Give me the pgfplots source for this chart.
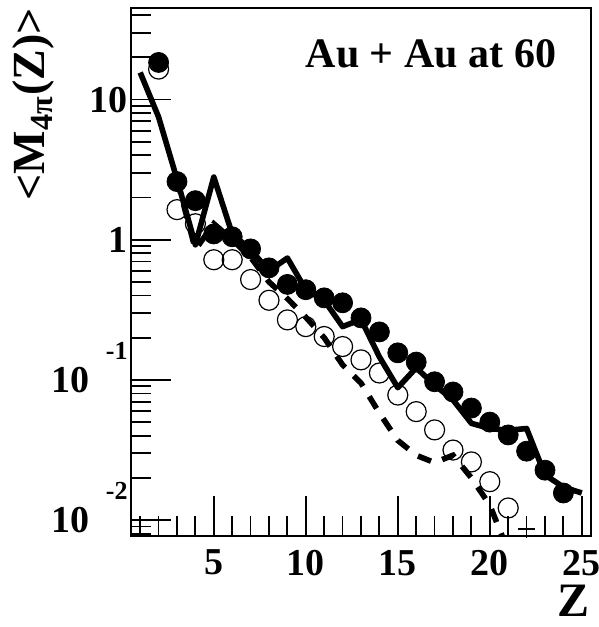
\documentclass[border=0pt]{standalone}
\usepackage{fontspec}
\setmainfont{Liberation Serif}
\usepackage{pgfplots}
\pgfplotsset{compat=1.18}
\usetikzlibrary{calc}

\pgfplotstableread{
Z v
2 18.4
3 2.6
4 1.9
5 1.1
6 1.05
7 0.86
8 0.63
9 0.48
10 0.44
11 0.385
12 0.355
13 0.277
14 0.22
15 0.156
16 0.134
17 0.097
18 0.082
19 0.063
20 0.050
21 0.0405
22 0.031
23 0.0227
24 0.0156
}\filled

\pgfplotstableread{
Z v
2 16.5
3 1.64
4 1.3
5 0.72
6 0.72
7 0.52
8 0.37
9 0.268
10 0.24
11 0.204
12 0.173
13 0.139
14 0.112
15 0.078
16 0.0594
17 0.044
18 0.0316
19 0.026
20 0.0188
21 0.0122
}\open

\pgfplotstableread{
Z v
1 15.6
2 7.5
3 2.7
4 0.92
5 2.8
6 1.1
7 0.85
8 0.6
9 0.74
10 0.44
11 0.37
12 0.24
13 0.27
14 0.146
15 0.088
16 0.122
17 0.092
18 0.072
19 0.049
20 0.045
21 0.0437
22 0.045
23 0.021
24 0.0172
25 0.0156
}\solid

\pgfplotstableread{
Z v
3 2.7
4 0.85
5 1.3
6 1.0
7 0.75
8 0.5
9 0.38
10 0.28
11 0.2
12 0.128
13 0.095
14 0.058
15 0.037
16 0.029
17 0.0257
18 0.029
19 0.02
20 0.0128
21 0.006
}\dashed

\begin{document}
\begin{tikzpicture}
\begin{axis}[
  scale only axis, width=230pt, height=264pt,
  xmin=0.5, xmax=25.5,
  ymode=log, ymin=0.0077, ymax=45,
  axis line style={line width=1pt},
  tick align=inside, tick pos=left,
  xtick={5,10,15,20,25},
  xticklabels={5,10,15,20,25},
  minor xtick={1,2,3,4,6,7,8,9,11,12,13,14,16,17,18,19,21,22,23,24},
  ytick={0.01,0.1,1,10},
  yticklabels={
    {10\hspace{8.2pt}\raisebox{16.5pt}[0pt][0pt]{\fontsize{13}{13}\selectfont -2}},
    {10\hspace{8.2pt}\raisebox{16.5pt}[0pt][0pt]{\fontsize{13}{13}\selectfont -1}},
    {1\hspace{14pt}},
    {10\hspace{14pt}}},
  minor ytick={0.008,0.009,0.02,0.03,0.04,0.05,0.06,0.07,0.08,0.09,0.2,0.3,0.4,0.5,0.6,0.7,0.8,0.9,2,3,4,5,6,7,8,9,20,30,40},
  major tick length=20pt, minor tick length=10pt,
  every tick/.style={line width=0.9pt, black},
  xticklabel style={font=\bfseries\fontsize{19}{19}\selectfont, yshift=-3.5pt},
  yticklabel style={font=\bfseries\fontsize{19}{19}\selectfont, inner sep=0pt, anchor=east, xshift=-1.5pt},
  xlabel={Z},
  xlabel style={font=\bfseries\fontsize{24}{24}\selectfont, inner sep=0pt, at={(axis description cs:1,0)}, anchor=north east, yshift=-24.5pt, xshift=-0.5pt},
  ylabel={<M\textsubscript{4π}(Z)>},
  ylabel style={font=\bfseries\fontsize{23}{23}\selectfont, inner sep=0pt, at={(axis description cs:-0.165,1)}, anchor=south east, rotate=0},
  clip=true,
]
\addplot[black, line width=2.8pt, line join=round] table[x=Z,y=v] {\solid};
\addplot[black, line width=2.8pt, dash pattern=on 7pt off 6pt] table[x=Z,y=v] {\dashed};
\addplot[only marks, mark=o, mark size=5pt, black, mark options={line width=0.6pt}] table[x=Z,y=v] {\open};
\addplot[only marks, mark=*, mark size=5pt, black] table[x=Z,y=v] {\filled};
\addplot[only marks, mark=+, mark size=4.3pt, black, mark options={line width=0.9pt}] coordinates {(22,0.0086)};
\node[font=\bfseries\fontsize{21}{21}\selectfont, anchor=base] at (rel axis cs:0.652,0.888) {Au + Au at 60};
\coordinate (sw) at (rel axis cs:0,0);
\coordinate (ne) at (rel axis cs:1,1);
\end{axis}
\pgfresetboundingbox
\path[use as bounding box] ($(sw)+(-65.5pt,-45.5pt)$) rectangle ($(ne)+(4pt,4pt)$);
\end{tikzpicture}
\end{document}
